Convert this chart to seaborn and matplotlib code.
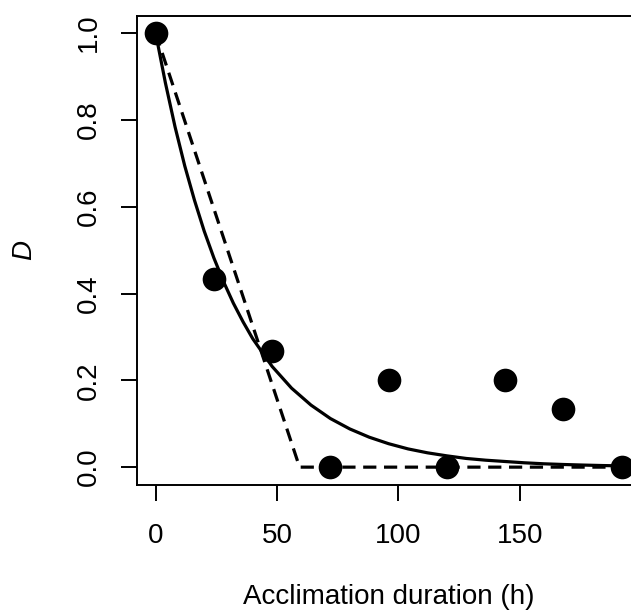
import matplotlib
matplotlib.use("Agg")
import matplotlib.pyplot as plt
import seaborn as sns
import pandas as pd

# observed data
hours = [0, 24, 48, 72, 96, 120, 144, 168, 192]
D_obs = [1.0, 0.433, 0.267, 0.0, 0.2, 0.0, 0.2, 0.133, 0.0]

# fitted exponential curve
curve_x = [0, 4, 8, 12, 16, 20, 24, 28, 32, 36, 40, 48, 56, 64, 72, 80, 88, 96,
           104, 112, 120, 128, 136, 144, 152, 160, 168, 176, 184, 192]
curve_y = [1.0, 0.886, 0.784, 0.694, 0.615, 0.544, 0.482, 0.427, 0.378, 0.335,
           0.296, 0.232, 0.182, 0.143, 0.112, 0.088, 0.069, 0.054, 0.042, 0.033,
           0.026, 0.020, 0.016, 0.013, 0.010, 0.0077, 0.0061, 0.0048, 0.0037, 0.0029]

# broken-stick (dashed) model
stick_x = [0, 59.3, 192]
stick_y = [1.0, 0.0, 0.0]

xticks = [0, 50, 100, 150]
yticks = [0.0, 0.2, 0.4, 0.6, 0.8, 1.0]
ytick_labels = ["0.0", "0.2", "0.4", "0.6", "0.8", "1.0"]

sns.set_style("ticks")
plt.rcParams['font.family'] = ['Liberation Sans', 'DejaVu Sans']
plt.rcParams['lines.scale_dashes'] = False
plt.rcParams['text.color'] = 'black'
plt.rcParams['axes.labelcolor'] = 'black'

fig = plt.figure(figsize=(6.31, 6.12), dpi=100)
ax = fig.add_axes([137 / 631, 127.5 / 612, 503.3 / 631, 468.7 / 612])

obs = pd.DataFrame({"h": hours, "D": D_obs})
cur = pd.DataFrame({"h": curve_x, "D": curve_y})
stk = pd.DataFrame({"h": stick_x, "D": stick_y})

sns.lineplot(data=cur, x="h", y="D", ax=ax, color="black", linewidth=2.3,
             estimator=None, sort=False, zorder=2)
sns.lineplot(data=stk, x="h", y="D", ax=ax, color="black", linewidth=2.3,
             estimator=None, sort=False, zorder=2)
ax.lines[-1].set_linestyle((0, (9.5, 5.5)))
sns.scatterplot(data=obs, x="h", y="D", ax=ax, color="black", s=290,
                edgecolor="black", linewidth=0, zorder=3, clip_on=False)

ax.set_xlim(-7.68, 199.68)
ax.set_ylim(-0.04, 1.04)
ax.set_xticks(xticks)
ax.set_xticklabels([str(t) for t in xticks])
ax.set_yticks(yticks)
ax.set_yticklabels(ytick_labels, rotation=90, va="center")

for sp in ax.spines.values():
    sp.set_linewidth(1.4)
    sp.set_color("black")

ax.tick_params(axis="both", length=11.5, width=1.4, color="black",
               labelsize=20, labelcolor="black")
ax.tick_params(axis="x", pad=16.5)
ax.tick_params(axis="y", pad=14)

ax.set_xlabel("Acclimation duration (h)", fontsize=20, labelpad=25, color="black")
ax.set_ylabel("D", fontsize=20, style="italic", labelpad=28, color="black")

fig.savefig("out.png", dpi=100)
